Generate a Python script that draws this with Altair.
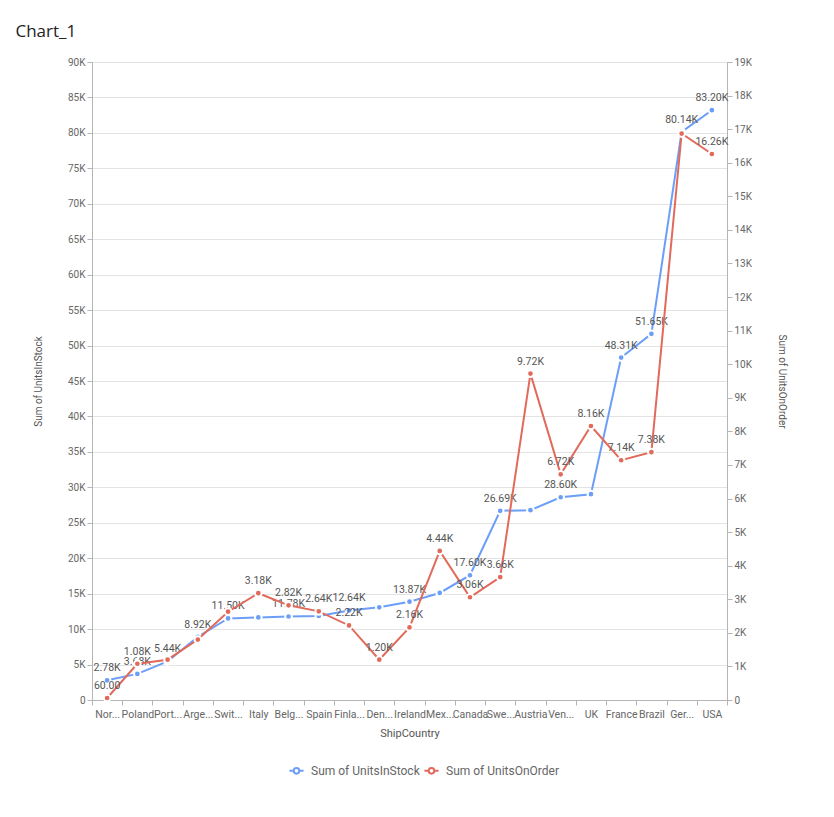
import altair as alt
import pandas as pd

categories = ["Norway", "Poland", "Portugal", "Argentina", "Switzerland", "Italy", "Belgium",
              "Spain", "Finland", "Denmark", "Ireland", "Mexico", "Canada", "Sweden", "Austria",
              "Venezuela", "UK", "France", "Brazil", "Germany", "USA"]
tick_labels = ["Nor...", "Poland", "Port...", "Arge...", "Swit...", "Italy", "Belg...",
               "Spain", "Finla...", "Den...", "Ireland", "Mex...", "Canada", "Swe...", "Austria",
               "Ven...", "UK", "France", "Brazil", "Ger...", "USA"]
units_in_stock = [2780, 3680, 5440, 8920, 11500, 11650, 11780, 11850, 12640, 13080, 13870,
                  15100, 17600, 26690, 26780, 28600, 29030, 48310, 51650, 80140, 83200]
units_on_order = [60, 1080, 1200, 1800, 2630, 3180, 2820, 2640, 2220, 1200, 2160,
                  4440, 3060, 3660, 9720, 6720, 8160, 7140, 7380, 16870, 16260]
stock_label_shown = [1, 1, 1, 1, 1, 0, 1, 0, 1, 0, 1, 0, 1, 1, 0, 1, 0, 1, 1, 1, 1]
order_label_shown = [1, 1, 0, 0, 0, 1, 1, 1, 1, 1, 1, 1, 1, 1, 1, 1, 1, 1, 1, 0, 1]

S1 = "Sum of UnitsInStock"
S2 = "Sum of UnitsOnOrder"
BLUE = "#6c9ef8"
RED = "#e26a5b"

rows = []
for i, c in enumerate(categories):
    rows.append(dict(country=c, series=S1, value=units_in_stock[i], show=stock_label_shown[i]))
    rows.append(dict(country=c, series=S2, value=units_on_order[i], show=order_label_shown[i]))
df = pd.DataFrame(rows)

cats_js = "[" + ",".join("'%s'" % c for c in categories) + "]"
ticks_js = "[" + ",".join("'%s'" % t for t in tick_labels) + "]"
x_label_expr = f"{ticks_js}[indexof({cats_js}, datum.value)]"

color = alt.Color("series:N",
                  scale=alt.Scale(domain=[S1, S2], range=[BLUE, RED]),
                  legend=alt.Legend(title=None, orient="none", direction="horizontal",
                                    legendX=196, legendY=700,
                                    symbolType="M-1,0L-0.4,0M0.4,0L1,0M-0.4,0A0.4,0.4 0 1,1 0.4,0A0.4,0.4 0 1,1 -0.4,0",
                                    symbolSize=200, symbolStrokeWidth=2, symbolFillColor="white",
                                    labelFontSize=12, labelColor="#666", labelFont="Roboto",
                                    columnPadding=0, labelOffset=6))

x = alt.X("country:N", sort=categories, title="ShipCountry",
          scale=alt.Scale(type="band", paddingInner=0, paddingOuter=0),
          axis=alt.Axis(labelExpr=x_label_expr, tickBand="extent", labelAngle=0,
                        labelOverlap=False, labelFontSize=10.5, labelColor="#666",
                        labelPadding=4, tickSize=5, tickColor="#b5b5b5",
                        domainColor="#b5b5b5", grid=False, titleFontSize=11,
                        titleColor="#555", titleFontWeight="normal", titlePadding=8,
                        labelFont="Roboto", titleFont="Roboto"))

label_calc = ("datum.show ? (datum.value < 1000 ? format(datum.value, '.2f') : "
              "format(datum.value / 1000, '.2f') + 'K') : ''")

base = alt.Chart(df).transform_calculate(lbl=label_calc)


def series_layer(name, y):
    b = base.transform_filter(alt.datum.series == name)
    line = b.mark_line(strokeWidth=2).encode(x=x, y=y, color=color)
    pts = b.mark_point(filled=True, size=45, stroke="white", strokeWidth=2, opacity=1).encode(
        x=x, y=y, fill=alt.Fill("series:N", scale=alt.Scale(domain=[S1, S2], range=[BLUE, RED]), legend=None))
    txt = b.mark_text(dy=-12, fontSize=10.5, color="#555", font="Roboto").encode(
        x=x, y=y, text="lbl:N")
    return alt.layer(line, pts, txt)


y_left = alt.Y("value:Q", title="Sum of UnitsInStock",
               scale=alt.Scale(domain=[0, 90000], nice=False),
               axis=alt.Axis(orient="left", values=list(range(0, 90001, 5000)),
                             labelExpr="datum.value == 0 ? '0' : format(datum.value / 1000, 'd') + 'K'",
                             grid=True, gridColor="#e3e3e3", labelFontSize=10, labelColor="#666",
                             tickSize=5, tickColor="#b5b5b5", domainColor="#b5b5b5",
                             titleFontSize=10, titleColor="#555", titleFontWeight="normal",
                             titlePadding=24, labelFont="Roboto", titleFont="Roboto"))
y_right = alt.Y("value:Q", title="Sum of UnitsOnOrder",
                scale=alt.Scale(domain=[0, 19000], nice=False),
                axis=alt.Axis(orient="right", values=list(range(0, 19001, 1000)),
                              labelExpr="datum.value == 0 ? '0' : format(datum.value / 1000, 'd') + 'K'",
                              grid=False, labelFontSize=10, labelColor="#666",
                              tickSize=5, tickColor="#b5b5b5", domainColor="#b5b5b5",
                              titleFontSize=10, titleColor="#555", titleFontWeight="normal",
                              titlePadding=25, labelFont="Roboto", titleFont="Roboto"))

chart = alt.layer(series_layer(S1, y_left), series_layer(S2, y_right)).resolve_scale(
    y="independent", fill="independent"
).properties(
    width=635, height=638,
    autosize=alt.AutoSizeParams(type="none"),
    padding={"left": 92, "top": 62, "right": 107, "bottom": 117},
    background="white",
    title=alt.TitleParams("Chart_1", anchor="start", dx=-18, offset=16, fontSize=17,
                          font="Open Sans", fontWeight="normal", color="#222"),
).configure_view(stroke=None)

chart.save("out.html", embed_options={"renderer": "svg", "actions": False})
